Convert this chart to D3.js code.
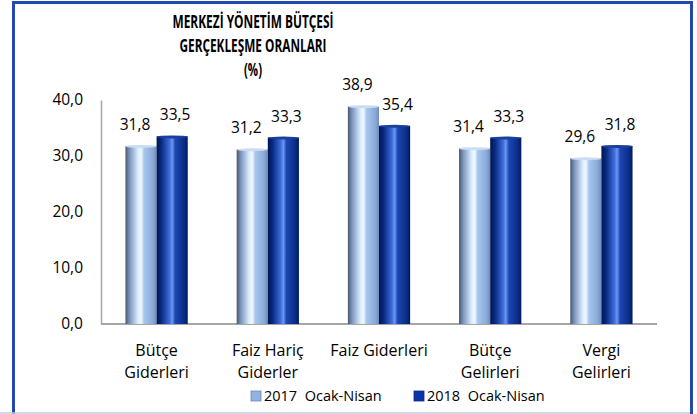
<!DOCTYPE html>
<html>
<head>
<meta charset="utf-8">
<script src="https://cdn.jsdelivr.net/npm/d3@7"></script>
<style>
  body { margin: 0; background: #fff; }
  svg { display: block; font-family: "Open Sans", "Noto Sans", sans-serif; }
</style>
</head>
<body>
<div id="svganchor"></div>
<script>
let width = 697;
let height = 414;

// data
let categories = [["Bütçe", "Giderleri"], ["Faiz Hariç", "Giderler"], ["Faiz Giderleri"], ["Bütçe", "Gelirleri"], ["Vergi", "Gelirleri"]];
let series2017 = [31.8, 31.2, 38.9, 31.4, 29.6];
let series2018 = [33.5, 33.3, 35.4, 33.3, 31.8];
let seriesNames = ["2017  Ocak-Nisan", "2018  Ocak-Nisan"];
let yTicks = [0, 10, 20, 30, 40];
let titleLines = ["MERKEZİ YÖNETİM BÜTÇESİ", "GERÇEKLEŞME ORANLARI", "(%)"];

let margin = { top: 100, right: 40, bottom: 90, left: 101 };

let svg = d3.select("#svganchor").append("svg").attr("width", width).attr("height", height);

// gradients for the cylinder look
let defs = svg.append("defs");
let gLight = defs.append("linearGradient").attr("id", "gLight").attr("x1", "0%").attr("x2", "100%");
[["0%", "#4a566c"], ["12%", "#7790b8"], ["40%", "#d9ecff"], ["50%", "#f2f9ff"], ["60%", "#a7c6ee"], ["88%", "#8aaad8"], ["100%", "#6f8cbc"]]
  .forEach(s => gLight.append("stop").attr("offset", s[0]).attr("stop-color", s[1]));
let gDark = defs.append("linearGradient").attr("id", "gDark").attr("x1", "0%").attr("x2", "100%");
[["0%", "#001552"], ["15%", "#072a80"], ["42%", "#3f6ddb"], ["50%", "#6d97f0"], ["60%", "#1c46b2"], ["88%", "#0a2d86"], ["100%", "#001a60"]]
  .forEach(s => gDark.append("stop").attr("offset", s[0]).attr("stop-color", s[1]));

// frame
svg.append("rect").attr("x", 13.5).attr("y", 2.5).attr("width", 678).attr("height", 420)
  .attr("fill", "none").attr("stroke", "#2448b0").attr("stroke-width", 3);
svg.append("line").attr("x1", 0).attr("x2", 690).attr("y1", 413).attr("y2", 413)
  .attr("stroke", "#c5cde0").attr("stroke-width", 1.5);

// title (squeezed to the narrow look of the original)
let titleWidths = [161, 147, 18];
svg.append("g").selectAll("text").data(titleLines).enter().append("text")
  .attr("x", 253).attr("y", (d, i) => 28 + i * 24)
  .attr("text-anchor", "middle").attr("font-size", 17).attr("font-weight", "bold")
  .attr("textLength", (d, i) => titleWidths[i]).attr("lengthAdjust", "spacingAndGlyphs")
  .attr("fill", "#000").text(d => d);

let xScale = d3.scaleBand().domain(d3.range(categories.length))
  .range([margin.left, width - margin.right]).paddingInner(0.44).paddingOuter(0.22);
let yScale = d3.scaleLinear().domain([0, 40]).range([height - margin.bottom, margin.top]);
let barW = xScale.bandwidth() / 2;

// y axis
let yAxis = d3.axisLeft(yScale).tickValues(yTicks).tickSize(0).tickPadding(18)
  .tickFormat(d => d3.format(".1f")(d).replace(".", ","));
let yg = svg.append("g").attr("transform", "translate(" + margin.left + ",0)").call(yAxis);
yg.select(".domain").attr("stroke", "#a6a6a6").attr("stroke-width", 1.5);
yg.selectAll("text").attr("font-size", 15.5).attr("fill", "#000").attr("font-family", "Open Sans");

// x axis line
svg.append("line").attr("x1", margin.left).attr("x2", width - margin.right)
  .attr("y1", yScale(0)).attr("y2", yScale(0)).attr("stroke", "#a6a6a6").attr("stroke-width", 2);

let fmt = v => d3.format(".1f")(v).replace(".", ",");

[series2017, series2018].forEach(function (vals, s) {
  let g = svg.append("g");
  g.selectAll("rect").data(vals).enter().append("rect")
    .attr("x", (d, i) => xScale(i) + s * barW)
    .attr("y", d => yScale(d))
    .attr("width", barW)
    .attr("height", d => yScale(0) - yScale(d))
    .attr("fill", s === 0 ? "url(#gLight)" : "url(#gDark)");
  // rim at the top of each cylinder
  g.selectAll("ellipse").data(vals).enter().append("ellipse")
    .attr("cx", (d, i) => xScale(i) + s * barW + barW / 2)
    .attr("cy", d => yScale(d) + 0.5)
    .attr("rx", barW / 2).attr("ry", 1.5)
    .attr("fill", s === 0 ? "#c9dcf3" : "#1b3f9e");
  g.selectAll("text").data(vals).enter().append("text")
    .attr("x", (d, i) => xScale(i) + s * barW + barW / 2 + (s === 0 ? -6 : 3))
    .attr("y", d => yScale(d) - 16)
    .attr("text-anchor", "middle").attr("font-size", 15.5).attr("fill", "#000")
    .text(d => fmt(d));
});

// category labels
let xl = svg.append("g");
categories.forEach(function (lines, i) {
  xl.append("text").attr("x", xScale(i) + xScale.bandwidth() / 2).attr("y", 356)
    .attr("text-anchor", "middle").attr("font-size", 16).attr("fill", "#000")
    .selectAll("tspan").data(lines).enter().append("tspan")
    .attr("x", xScale(i) + xScale.bandwidth() / 2).attr("dy", (d, j) => j === 0 ? 0 : 22)
    .text(d => d);
});

// legend
let legend = svg.append("g");
let legX = [251, 414];
seriesNames.forEach(function (name, i) {
  legend.append("rect").attr("x", legX[i]).attr("y", 391).attr("width", 10).attr("height", 10)
    .attr("fill", i === 0 ? "#8fb2e3" : "#0a35a6")
    .attr("stroke", i === 0 ? "#6f88b0" : "#0a2a8a").attr("stroke-width", 0.8);
  legend.append("text").attr("x", legX[i] + 13).attr("y", 401)
    .attr("font-size", 14.5).attr("fill", "#000").attr("xml:space", "preserve")
    .style("white-space", "pre").text(name);
});
</script>
</body>
</html>
